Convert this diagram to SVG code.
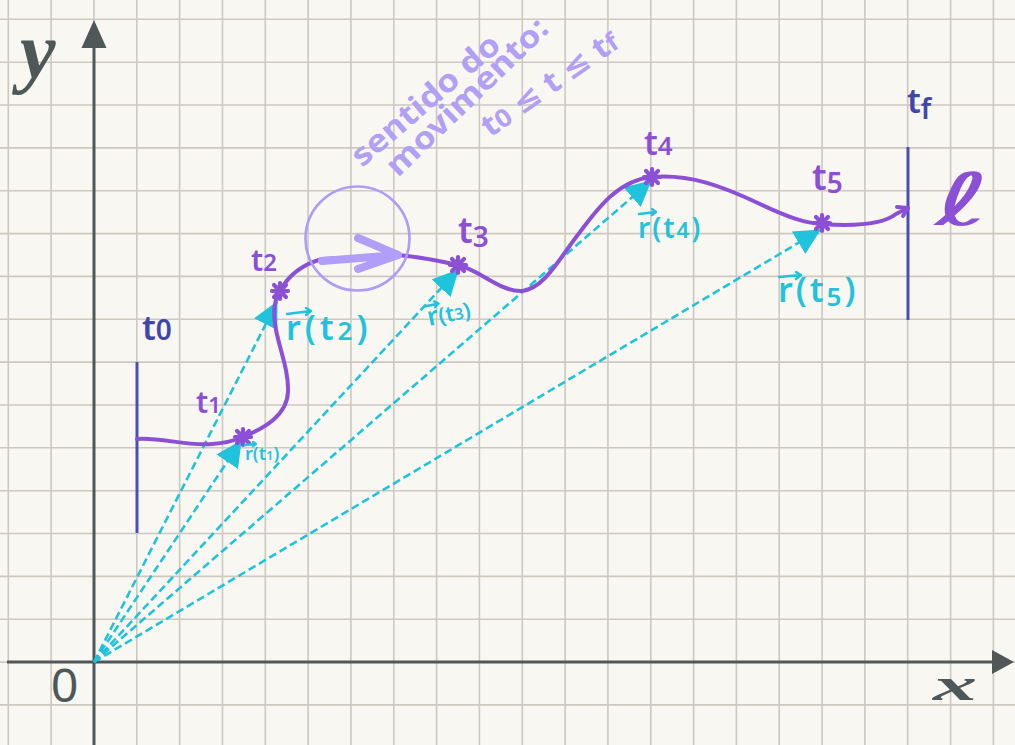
<svg xmlns="http://www.w3.org/2000/svg" xmlns:xlink="http://www.w3.org/1999/xlink" width="1015" height="745" viewBox="0 0 1015 745">
<defs>
<style>
.grid{stroke:#cdc8c0;stroke-width:1.6;fill:none}
.axis{stroke:#4e5858;stroke-width:3;fill:none}
.axhead{fill:#4e5858}
.curve{stroke:#8b50d5;stroke-width:4;fill:none;stroke-linecap:round;stroke-linejoin:round}
.vec{stroke:#1fc3dc;stroke-width:2.6;fill:none;stroke-dasharray:8 4}
.bar{stroke:#4a4fb3;stroke-width:3;fill:none}
.tl{font-family:"Noto Sans","DejaVu Sans",sans-serif;font-weight:600;fill:#8b50d5}
.tb{font-family:"Noto Sans","DejaVu Sans",sans-serif;font-weight:600;fill:#3f47aa}
.rl{font-family:"Noto Sans","DejaVu Sans",sans-serif;font-weight:600;fill:#1fc3dc}
.rarr{stroke:#1fc3dc;stroke-width:2.4;fill:none;stroke-linecap:round;stroke-linejoin:round}
.lav{font-family:"Noto Sans","DejaVu Sans",sans-serif;font-weight:700;fill:#b29ff6;font-size:31px}
.axl{font-family:"Liberation Serif","DejaVu Serif",serif;font-style:italic;font-weight:bold;fill:#4e5858}
</style>
<marker id="tri" markerUnits="userSpaceOnUse" markerWidth="26" markerHeight="26" viewBox="0 0 24 24" refX="23" refY="12" orient="auto">
<path d="M0,0 L24,12 L0,24 Z" fill="#1fc3dc"/>
</marker>
<g id="star">
<path d="M-6,-6 L6,6 M-6,6 L6,-6 M0,-8 L0,8 M-8,0 L8,0" stroke="#8b50d5" stroke-width="4.2" stroke-linecap="round"/>
<circle r="5.5" fill="#8b50d5"/>
</g>
</defs>

<rect width="1015" height="745" fill="#f9f7f2"/>

<g id="grid">
<path class="grid" d="M8.3,0V745 M51.1,0V745 M94,0V745 M136.8,0V745 M179.6,0V745 M222.5,0V745 M265.3,0V745 M308.1,0V745 M350.9,0V745 M393.8,0V745 M436.6,0V745 M479.4,0V745 M522.3,0V745 M565.1,0V745 M607.9,0V745 M650.8,0V745 M693.6,0V745 M736.4,0V745 M779.2,0V745 M822.1,0V745 M864.9,0V745 M907.7,0V745 M950.6,0V745 M993.4,0V745
M0,19.3H1015 M0,62.2H1015 M0,105H1015 M0,147.9H1015 M0,190.7H1015 M0,233.6H1015 M0,276.4H1015 M0,319.3H1015 M0,362.1H1015 M0,405H1015 M0,447.8H1015 M0,490.7H1015 M0,533.5H1015 M0,576.4H1015 M0,619.2H1015 M0,662.1H1015 M0,704.9H1015"/>
</g>

<g id="axes">
<path class="axis" d="M94,745 V45 M7,662 H995"/>
<path class="axhead" d="M94,20 L106.5,48 L81.5,48 Z"/>
<path class="axhead" d="M1014,662 L992,650 L992,674 Z"/>
<text class="axl" x="20" y="78" font-size="80">y</text>
<text class="axl" x="933" y="700" font-size="46" textLength="44" lengthAdjust="spacingAndGlyphs">x</text>
<text x="64.5" y="702" font-family="Liberation Sans, Arial, sans-serif" font-size="48" fill="#4e5858" text-anchor="middle">0</text>
</g>

<g id="bars">
<path class="bar" d="M137,362 V533"/>
<path class="bar" d="M908,147 V320"/>
<text class="tb" x="142" y="340" font-size="34">t<tspan font-size="28">0</tspan></text>
<text class="tb" x="907" y="113" font-size="34">t<tspan font-size="28" dy="6">f</tspan></text>
</g>

<g id="connectors">
<path class="vec" d="M94,662 L241,441" marker-end="url(#tri)"/>
<path class="vec" d="M94,662 L277,302" marker-end="url(#tri)"/>
<path class="vec" d="M94,662 L458,270" marker-end="url(#tri)"/>
<path class="vec" d="M94,662 L651,181" marker-end="url(#tri)"/>
<path class="vec" d="M94,662 L820,230" marker-end="url(#tri)"/>
</g>

<g id="curve">
<path class="curve" stroke-width="2" d="M137,439 C160,437 185,446 212,444 C228,443 236,440 243,437"/>
<path class="curve" d="M243,437 C265,428 287,415 288,392 C289,372 280,350 276,330 C273,315 274,300 280,291 C288,276 300,265 322,259 L398,255 C420,257 440,261 458,265 C480,270 500,292 522,291 C545,288 558,260 580,232 C600,205 620,180 652,177 C690,174 722,186 760,204 C790,218 805,223 822,224 C850,226 882,225 896,214 L908,208"/>
<path class="curve" stroke-width="3" d="M897,207 L908,208 L903,216"/>
<use href="#star" x="243" y="437"/>
<use href="#star" x="280" y="291"/>
<use href="#star" x="458" y="265"/>
<use href="#star" x="652" y="177"/>
<use href="#star" x="822" y="223"/>
<circle cx="357.5" cy="238.5" r="52" fill="none" stroke="#ae9cf6" stroke-width="2.6"/>
<path d="M322,261 L398,255 M358,238 L398,255 L358,269" fill="none" stroke="#b09ef8" stroke-width="8" stroke-linecap="round" stroke-linejoin="round"/>
</g>

<g id="t-labels">
<text class="tl" x="196" y="413" font-size="30">t<tspan font-size="22">1</tspan></text>
<text class="tl" x="251" y="271" font-size="30">t<tspan font-size="24">2</tspan></text>
<text class="tl" x="458" y="243" font-size="36">t<tspan font-size="28" dy="4">3</tspan></text>
<text class="tl" x="644" y="155" font-size="34">t<tspan font-size="26">4</tspan></text>
<text class="tl" x="812" y="190" font-size="36">t<tspan font-size="28" dy="3">5</tspan></text>
<text x="935" y="225" font-size="72" textLength="55" lengthAdjust="spacingAndGlyphs" font-family="DejaVu Sans, sans-serif" fill="#8b50d5">ℓ</text>
</g>

<g id="r-labels">
<text class="rl" x="245" y="460" font-size="18">r(t<tspan font-size="13">1</tspan>)</text>
<path class="rarr" stroke-width="1.6" d="M245,445 L256,444 M253,442 L256,444 L253,446"/>
<text class="rl" x="286" y="340" font-size="34" letter-spacing="4">r(t<tspan font-size="26">2</tspan>)</text>
<path class="rarr" d="M287,314 L311,311 M306,308 L311,311 L306,315"/>
<g transform="translate(429,326) rotate(-12)">
<text class="rl" x="0" y="0" font-size="26">r<tspan font-size="22">(t</tspan><tspan font-size="16">3</tspan><tspan font-size="22">)</tspan></text>
<path class="rarr" stroke-width="2" d="M1,-20 L14,-20 M10,-23 L14,-20 L10,-17"/>
</g>
<text class="rl" x="638" y="238" font-size="28" letter-spacing="2">r(t<tspan font-size="22">4</tspan>)</text>
<path class="rarr" d="M639,214 L656,212 M652,209 L656,212 L652,215"/>
<text class="rl" x="778" y="302" font-size="34" letter-spacing="3">r(t<tspan font-size="26" dy="4">5</tspan><tspan dy="-4">)</tspan></text>
<path class="rarr" d="M779,277 L801,275 M796,272 L801,275 L796,279"/>
</g>

<g id="note">
<text class="lav" transform="translate(362,168) rotate(-40.5)" textLength="185" lengthAdjust="spacingAndGlyphs">sentido do</text>
<text class="lav" transform="translate(398,178) rotate(-44)" textLength="212" lengthAdjust="spacingAndGlyphs">movimento:</text>
<text class="lav" transform="translate(490,138) rotate(-35)" textLength="160" lengthAdjust="spacingAndGlyphs">t<tspan font-size="25">0</tspan> ≤ t ≤ t<tspan font-size="25">f</tspan></text>
</g>
</svg>
